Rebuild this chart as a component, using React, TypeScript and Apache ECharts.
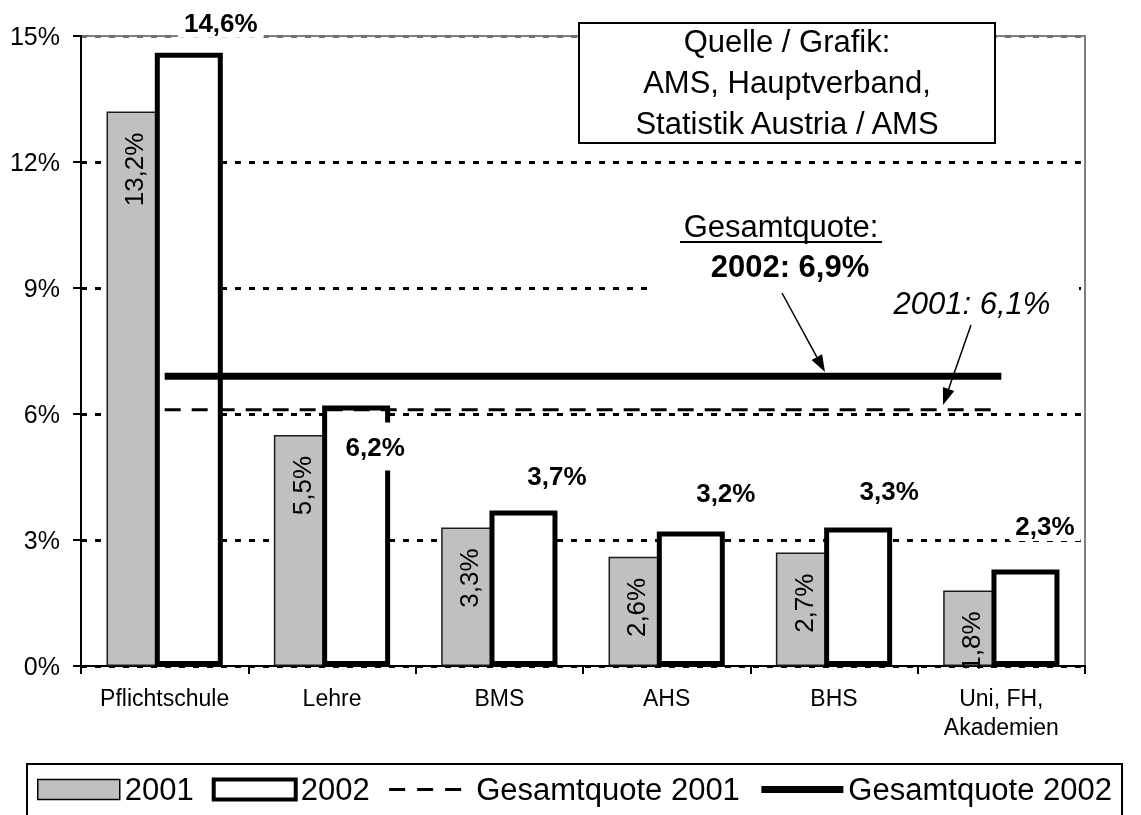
import React, { useEffect, useRef } from 'react';
import * as echarts from 'echarts';

const categories = ['Pflichtschule', 'Lehre', 'BMS', 'AHS', 'BHS', 'Uni, FH,\nAkademien'];
const values2001 = [13.2, 5.5, 3.3, 2.6, 2.7, 1.8];
const values2002 = [14.6, 6.2, 3.7, 3.2, 3.3, 2.3];
const total2001 = [6.1, 6.1, 6.1, 6.1, 6.1, 6.1];
const total2002 = [6.9, 6.9, 6.9, 6.9, 6.9, 6.9];
const yMin = 0;
const yMax = 15;
const yStep = 3;
const sourceLines = ['Quelle / Grafik:', 'AMS, Hauptverband,', 'Statistik Austria / AMS'];
const legendNames = ['2001', '2002', 'Gesamtquote 2001', 'Gesamtquote 2002'];

// label placement offsets (px) for the 2002 value labels
const label2002Offsets = [[32, -15], [19, 65], [33.5, -20], [35, -24], [31, -21.5], [19.5, -28.5]];

const FONT = '"Liberation Sans", Arial, Helvetica, sans-serif';
const fmt = (v: number) => v.toFixed(1).replace('.', ',') + '%';
const HIDDEN = { color: 'rgba(0,0,0,0)', borderColor: 'rgba(0,0,0,0)', borderWidth: 0, opacity: 0 };

function arrow(x1: number, y1: number, x2: number, y2: number) {
  const dx = x2 - x1;
  const dy = y2 - y1;
  const len = Math.hypot(dx, dy);
  const ux = dx / len;
  const uy = dy / len;
  const hl = 17;
  const hw = 6;
  const bx = x2 - ux * hl;
  const by = y2 - uy * hl;
  return [
    { type: 'line', z: 20, shape: { x1, y1, x2: bx, y2: by }, style: { stroke: '#000', lineWidth: 1.5 } },
    {
      type: 'polygon', z: 20,
      shape: { points: [[x2, y2], [bx - uy * hw, by + ux * hw], [bx + uy * hw, by - ux * hw]] },
      style: { fill: '#000' },
    },
  ];
}

export default function App() {
  const ref = useRef<HTMLDivElement>(null);
  useEffect(() => {
    if (!ref.current) return;
    const chart = echarts.init(ref.current, undefined, { renderer: 'svg' });
    const option: any = {
      animation: false,
      textStyle: { fontFamily: FONT, color: '#000' },
      grid: {
        left: 81, right: 56, top: 36, bottom: 149,
        show: true, borderColor: '#808080', borderWidth: 2, backgroundColor: 'transparent',
      },
      xAxis: {
        type: 'category',
        data: categories,
        boundaryGap: true,
        axisLine: { lineStyle: { color: '#000', width: 2 } },
        axisTick: { show: true, length: 8, lineStyle: { color: '#000', width: 2 } },
        axisLabel: { color: '#000', fontSize: 23, lineHeight: 29, margin: 17, interval: 0, fontFamily: FONT },
        splitLine: { show: false },
      },
      yAxis: {
        type: 'value',
        min: yMin, max: yMax, interval: yStep,
        axisLine: { show: true, lineStyle: { color: '#000', width: 2 } },
        axisTick: { show: true, length: 8, lineStyle: { color: '#000', width: 2 } },
        axisLabel: { formatter: '{value}%', fontSize: 25, color: '#000', margin: 21, fontFamily: FONT },
        splitLine: {
          show: true,
          lineStyle: { color: ['#000', '#000', '#000', '#000', '#000', '#707070'], width: 3, type: [6, 8] },
        },
      },
      legend: {
        left: 27, top: 764, orient: 'horizontal',
        padding: [10, 10, 25, 10],
        borderColor: '#000', borderWidth: 2, backgroundColor: '#fff',
        itemWidth: 82, itemHeight: 20, itemGap: 18,
        selectedMode: false,
        textStyle: { fontSize: 31, color: '#000', fontFamily: FONT },
        data: [
          { name: legendNames[0], icon: 'rect', itemStyle: { color: '#c0c0c0', borderColor: '#000', borderWidth: 1.5 } },
          { name: legendNames[1], icon: 'rect', itemStyle: { color: '#fff', borderColor: '#000', borderWidth: 4 } },
          { name: legendNames[2], itemStyle: HIDDEN, lineStyle: { width: 3, type: [16, 12], color: '#000' } },
          { name: legendNames[3], itemStyle: HIDDEN, lineStyle: { width: 7, color: '#000' } },
        ],
      },
      series: [
        {
          name: legendNames[0], type: 'bar', data: values2001, barWidth: 68, barGap: '-29%',
          itemStyle: { color: '#c0c0c0', borderColor: '#1a1a1a', borderWidth: 1.5 },
          label: {
            show: true, position: ['41%', 21], rotate: 90, align: 'right', verticalAlign: 'middle',
            fontSize: 26, color: '#000', fontFamily: FONT,
            formatter: (p: any) => fmt(p.value),
          },
        },
        {
          name: legendNames[1], type: 'bar', barWidth: 68, barGap: '-29%',
          data: values2002.map((v, i) => ({
            value: v,
            label: { offset: label2002Offsets[i], padding: i === 1 ? [11, 6, 11, 6] : [2, 6] },
          })),
          itemStyle: { color: '#fff', borderColor: '#000', borderWidth: 5 },
          label: {
            show: true, position: 'top', distance: 0, fontSize: 26, fontWeight: 'bold', color: '#000',
            backgroundColor: '#fff', fontFamily: FONT,
            formatter: (p: any) => fmt(p.value),
          },
        },
        {
          name: legendNames[2], type: 'line', data: total2001, symbol: 'none', z: 5,
          lineStyle: { color: '#000', width: 3, type: [16, 11] }, itemStyle: { color: '#000' },
        },
        {
          name: legendNames[3], type: 'line', data: total2002, symbol: 'none', z: 5,
          lineStyle: { color: '#000', width: 7 }, itemStyle: { color: '#000' },
        },
      ],
      graphic: [
        { type: 'rect', z: 1, shape: { x: 654, y: 200, width: 425, height: 130 }, style: { fill: '#fff' } },
        { type: 'rect', z: 10, shape: { x: 579, y: 23, width: 416, height: 120 }, style: { fill: '#fff', stroke: '#000', lineWidth: 2 } },
        {
          type: 'text', z: 11, x: 787, y: 82,
          style: { text: sourceLines.join('\n'), fontSize: 31, fontFamily: FONT, fill: '#000', align: 'center', verticalAlign: 'middle', lineHeight: 41 },
        },
        {
          type: 'text', z: 11, x: 781, y: 226,
          style: { text: 'Gesamtquote:', fontSize: 31, fontFamily: FONT, fill: '#000', align: 'center', verticalAlign: 'middle' },
        },
        { type: 'line', z: 11, shape: { x1: 680, y1: 242, x2: 882, y2: 242 }, style: { stroke: '#000', lineWidth: 2 } },
        {
          type: 'text', z: 11, x: 790, y: 266,
          style: { text: '2002: ' + fmt(total2002[0]), fontSize: 31, fontWeight: 'bold', fontFamily: FONT, fill: '#000', align: 'center', verticalAlign: 'middle' },
        },
        {
          type: 'text', z: 11, x: 972, y: 303,
          style: { text: '2001: ' + fmt(total2001[0]), fontSize: 31, fontStyle: 'italic', fontFamily: FONT, fill: '#000', align: 'center', verticalAlign: 'middle' },
        },
        ...arrow(782, 293, 825, 372),
        ...arrow(971, 325, 943, 405),
      ],
    };
    chart.setOption(option);
    return () => chart.dispose();
  }, []);
  return <div ref={ref} style={{ position: 'fixed', left: 0, top: 0, width: 1141, height: 815 }} />;
}
